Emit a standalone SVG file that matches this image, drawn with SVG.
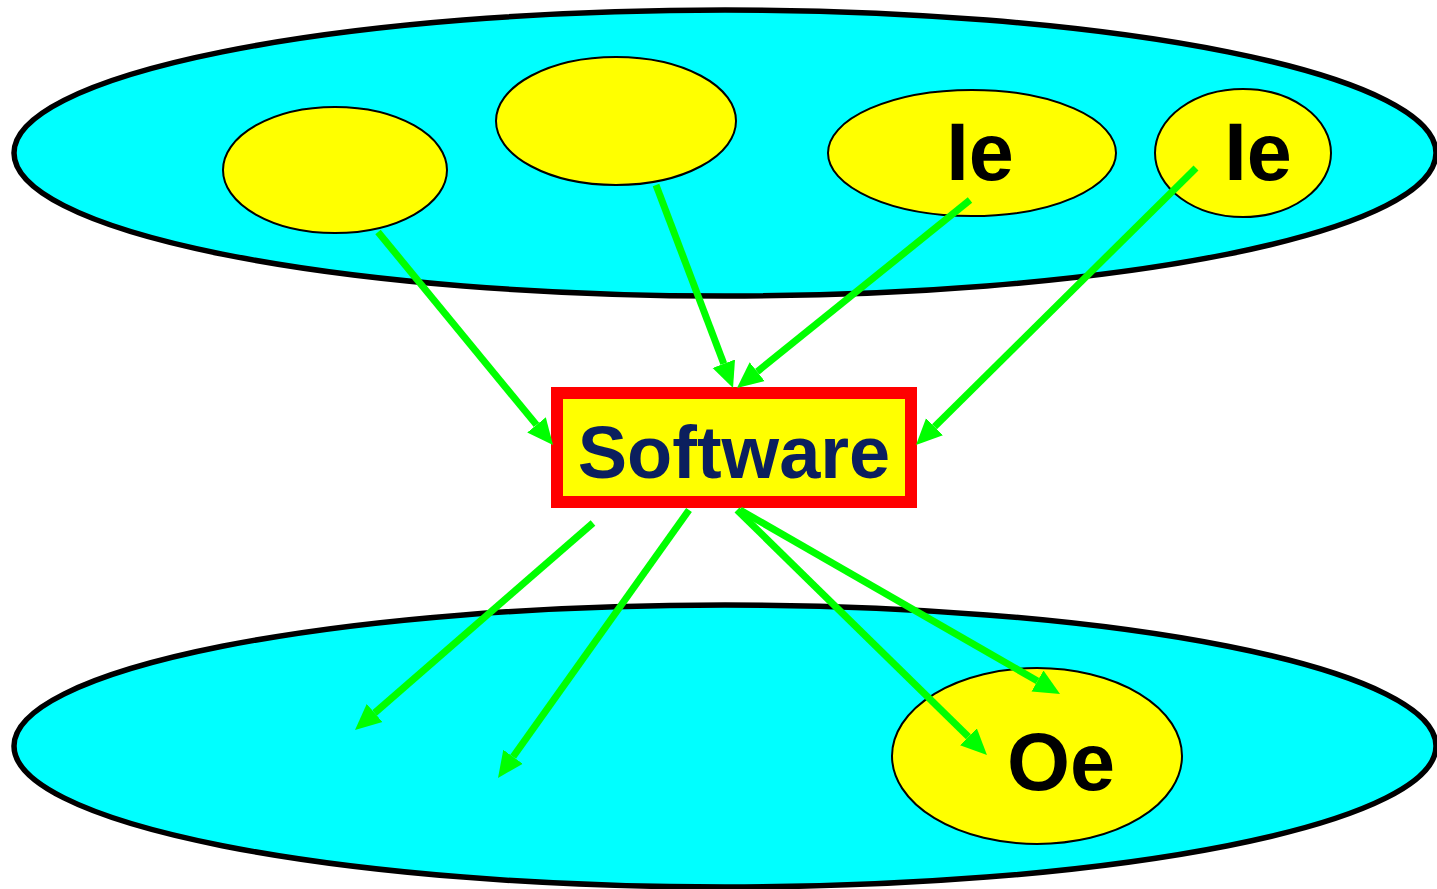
<svg xmlns="http://www.w3.org/2000/svg" width="1437" height="889" viewBox="0 0 1437 889">
  <defs>
    <marker id="head" markerUnits="userSpaceOnUse" markerWidth="28" markerHeight="26" viewBox="0 -13 28 26" refX="0" refY="0" orient="auto">
      <path d="M0,-12 L26,0 L0,12 z" fill="#00ff00"/>
    </marker>
    <style>
      .domain { fill: #00ffff; stroke: #000; stroke-width: 5.5; }
      .item { fill: #ffff00; stroke: #000; stroke-width: 2; }
      .label { font-family: "Liberation Sans", Arial, sans-serif; font-weight: bold; font-size: 81px; fill: #000; text-anchor: middle; }
      .flow { stroke: #00ff00; stroke-width: 7; fill: none; marker-end: url(#head); }
    </style>
  </defs>
  <rect width="1437" height="889" fill="#fff"/>

  <!-- input domain -->
  <g id="inputs">
    <ellipse class="domain" cx="725" cy="153" rx="711" ry="143"/>
  </g>
  <!-- output domain -->
  <g id="outputs">
    <ellipse class="domain" cx="725" cy="746" rx="711" ry="141"/>
  </g>

  <g id="in1"><ellipse class="item" cx="335" cy="170" rx="112" ry="63"/></g>
  <g id="in2"><ellipse class="item" cx="616" cy="121" rx="120" ry="64"/></g>
  <g id="in3">
    <ellipse class="item" cx="972" cy="153" rx="144" ry="63"/>
    <text class="label" x="980" y="180">Ie</text>
  </g>
  <g id="in4">
    <ellipse class="item" cx="1243" cy="153" rx="88" ry="64"/>
    <text class="label" x="1258" y="180">Ie</text>
  </g>
  <g id="out1">
    <ellipse class="item" cx="1037" cy="756" rx="145" ry="88"/>
    <text class="label" x="1061" y="790">Oe</text>
  </g>

  <g id="software">
    <rect x="557" y="393" width="354" height="109" fill="#ffff00" stroke="#ff0000" stroke-width="12"/>
    <text x="734" y="478" font-family="Liberation Sans, Arial, sans-serif" font-weight="bold" font-size="74" fill="#0b1f5e" text-anchor="middle">Software</text>
  </g>

  <!-- flows into and out of the software -->
  <g id="connectors">
    <line class="flow" x1="378" y1="232" x2="536.5" y2="424.9"/>
    <line class="flow" x1="656" y1="185" x2="723.8" y2="363.7"/>
    <line class="flow" x1="970" y1="200" x2="757.2" y2="371.7"/>
    <line class="flow" x1="1196" y1="168" x2="934.5" y2="426.7"/>
    <line class="flow" x1="593" y1="523" x2="374.6" y2="713"/>
    <line class="flow" x1="689" y1="510" x2="513.1" y2="756.8"/>
    <line class="flow" x1="737" y1="510" x2="968.4" y2="736.8"/>
    <line class="flow" x1="740" y1="510" x2="1037.5" y2="681"/>
  </g>
</svg>
